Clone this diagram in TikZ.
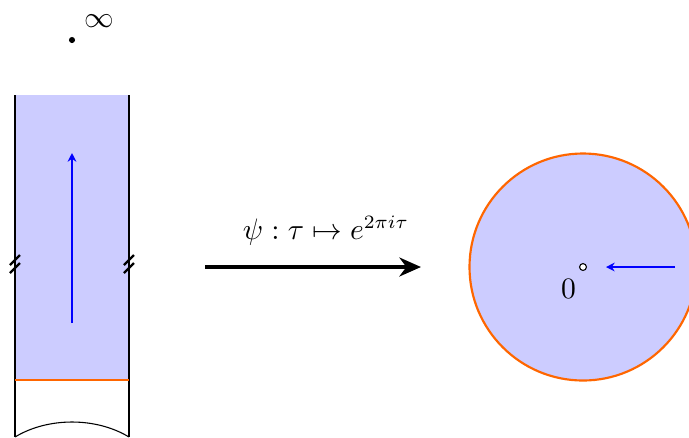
\documentclass[tikz,border=0pt]{standalone}
\usepackage{amsmath,amssymb}
\usepackage{xcolor}
\usetikzlibrary{arrows.meta,positioning,calc}

\definecolor{rim}{RGB}{255,102,0}

\begin{document}
\begin{tikzpicture}[x=0.013cm,y=-0.013cm,
  every node/.style={font=\fontsize{10.7pt}{13pt}\selectfont},
  region/.style={fill=blue!20},
  rimline/.style={draw=rim,thick},
  flow/.style={-{Stealth[length=3.2pt,width=3.2pt]},blue,semithick},
  cut/.style={thick}]
  \useasboundingbox (0,0) rectangle (689,437);
  % strip
  \fill[region] (15,95) rectangle (129,380);
  \draw (15,95) -- (15,437);
  \draw (129,95) -- (129,437);
  \draw[rimline] (15,380) -- (129,380);
  \draw (15,437) .. controls (48,417) and (96,417) .. (129,437);
  \foreach \x in {15,129}
    \foreach \y in {260,268}
      \draw[cut] (\x-5,\y+5) -- (\x+5,\y-5);
  \coordinate (up0) at (72,323);
  \coordinate (up1) at (72,153);
  \draw[flow] (up0) -- (up1);
  \node[circle,fill,inner sep=0.8pt] (cusp) at (72,40) {};
  \node[above right=0pt and 0pt of cusp] (inf) {$\infty$};
  % map
  \coordinate (src) at (205,267);
  \coordinate (dst) at (421,267);
  \draw[-{Stealth[length=8pt,width=7pt]},ultra thick] (src) -- (dst)
    node[pos=0.56,above=4pt] (psi) {$\psi:\tau\mapsto e^{2\pi i\tau}$};
  % disk
  \draw[region,rimline] (583,267) circle (113.5);
  \node[circle,draw,fill=white,inner sep=0.9pt] (zero) at (583,267) {};
  \node[below left=0pt and -2pt of zero] (zlab) {$0$};
  \coordinate (in0) at (675,267);
  \coordinate (in1) at (606,267);
  \draw[flow] (in0) -- (in1);
\end{tikzpicture}
\end{document}
